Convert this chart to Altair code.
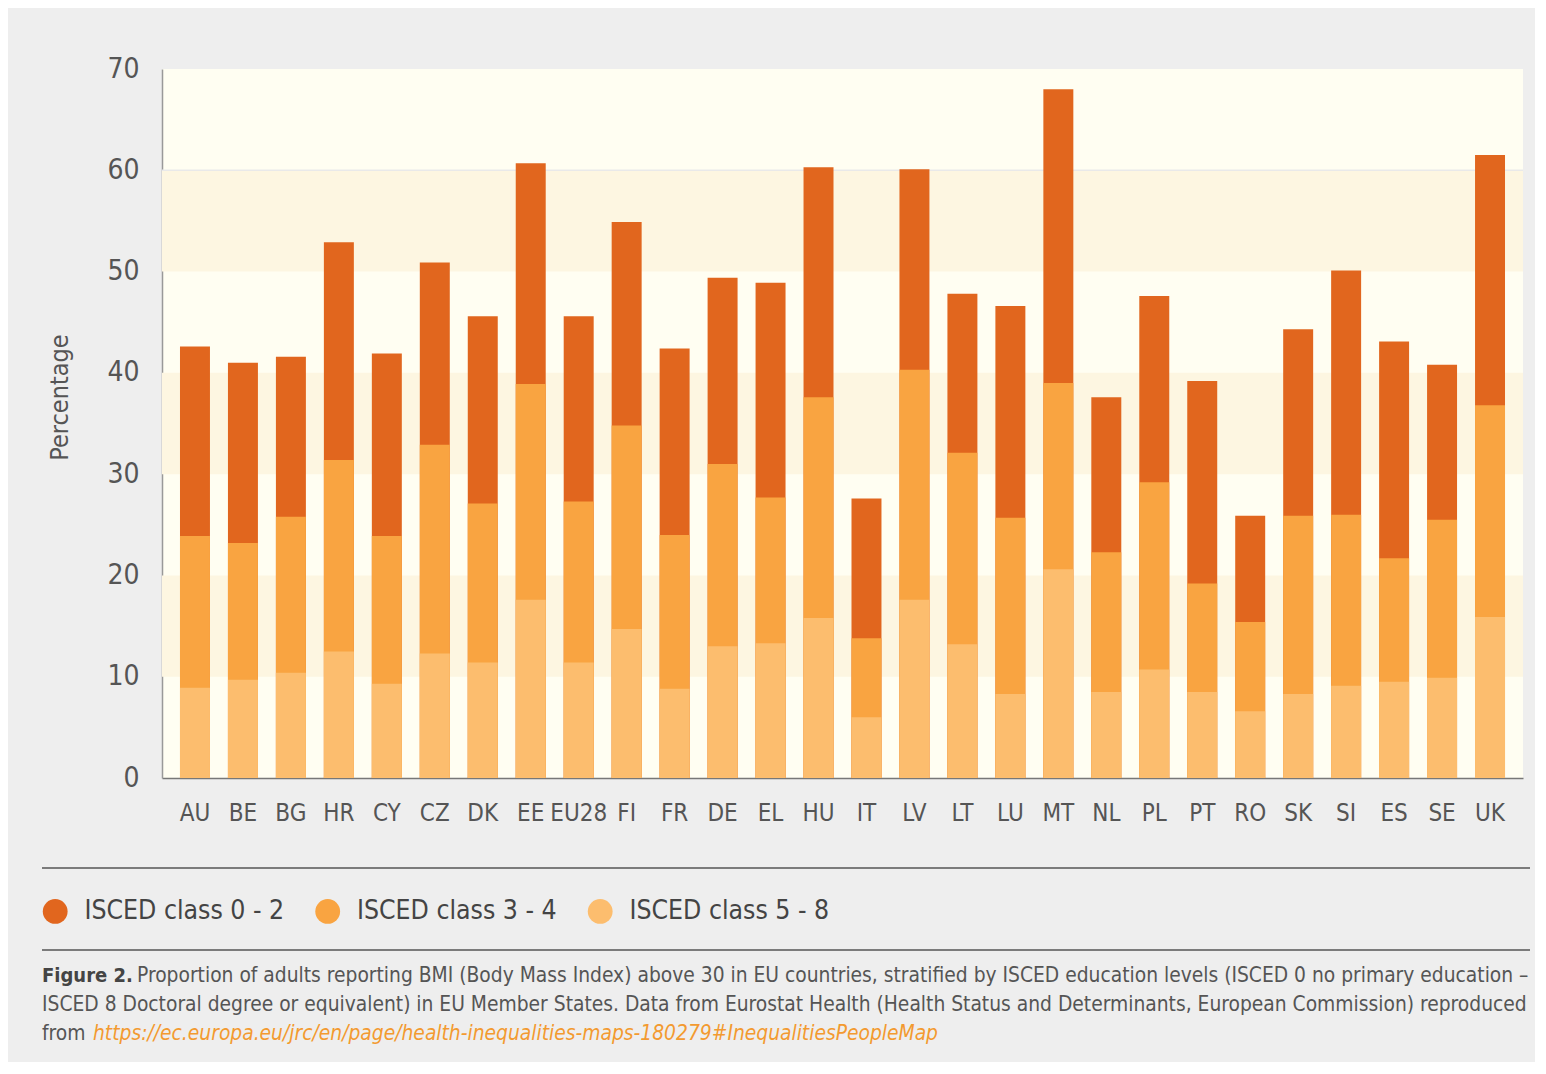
import altair as alt
import pandas as pd

countries = ["AU", "BE", "BG", "HR", "CY", "CZ", "DK", "EE", "EU28", "FI", "FR", "DE", "EL", "HU",
             "IT", "LV", "LT", "LU", "MT", "NL", "PL", "PT", "RO", "SK", "SI", "ES", "SE", "UK"]
isced_0_2 = [42.6, 41.0, 41.6, 52.9, 41.9, 50.9, 45.6, 60.7, 45.6, 54.9, 42.4, 49.4, 48.9, 60.3,
             27.6, 60.1, 47.8, 46.6, 68.0, 37.6, 47.6, 39.2, 25.9, 44.3, 50.1, 43.1, 40.8, 61.5]
isced_3_4 = [23.9, 23.2, 25.8, 31.4, 23.9, 32.9, 27.1, 38.9, 27.3, 34.8, 24.0, 31.0, 27.7, 37.6,
             13.8, 40.3, 32.1, 25.7, 39.0, 22.3, 29.2, 19.2, 15.4, 25.9, 26.0, 21.7, 25.5, 36.8]
isced_5_8 = [8.9, 9.7, 10.4, 12.5, 9.3, 12.3, 11.4, 17.6, 11.4, 14.7, 8.8, 13.0, 13.3, 15.8,
             6.0, 17.6, 13.2, 8.3, 20.6, 8.5, 10.7, 8.5, 6.6, 8.3, 9.1, 9.5, 9.9, 15.9]
classes = ["ISCED class 0 - 2", "ISCED class 3 - 4", "ISCED class 5 - 8"]
class_colors = ["#e1661e", "#f9a441", "#fcbd6e"]
band_starts = [10, 30, 50]
grid_values = [60]
y_ticks = [0, 10, 20, 30, 40, 50, 60, 70]

caption_bold = "Figure 2."
caption_line1 = ("Proportion of adults reporting BMI (Body Mass Index) above 30 in EU countries, "
                 "stratified by ISCED education levels (ISCED 0 no primary education –")
caption_line2 = ("ISCED 8 Doctoral degree or equivalent) in EU Member States. Data from Eurostat Health "
                 "(Health Status and Determinants, European Commission) reproduced")
caption_line3 = "from"
caption_url = "https://ec.europa.eu/jrc/en/page/health-inequalities-maps-180279#InequalitiesPeopleMap"

rows = []
for cls, vals in zip(classes, [isced_0_2, isced_3_4, isced_5_8]):
    for c, v in zip(countries, vals):
        rows.append({"country": c, "cls": cls, "value": v})
df = pd.DataFrame(rows)
bands = pd.DataFrame({"y0": band_starts, "y1": [b + 10 for b in band_starts]})
grid = pd.DataFrame({"g": grid_values})

FONT = "Liberation Sans Narrow, DejaVu Sans Condensed, sans-serif"
TXT = "#555555"

x_scale = alt.Scale(domain=countries, paddingInner=0.375, paddingOuter=0.375)
y_scale = alt.Scale(domain=[0, 70], nice=False)
y_axis = alt.Axis(title="Percentage", values=y_ticks, ticks=False, grid=False,
                  domainColor="#999999", domainWidth=1.5, labelFontSize=28, labelFont=FONT,
                  labelColor=TXT, labelPadding=23, titleFontSize=25, titleFont=FONT,
                  titleFontWeight="normal", titleColor=TXT, titleX=-103, titleY=328,
                  titleAngle=270, titleAlign="center", titleBaseline="middle")

band_layer = alt.Chart(bands).mark_rect(color="#fdf6e1").encode(
    x=alt.value(0), x2=alt.value("width"),
    y=alt.Y("y0:Q", scale=y_scale, axis=y_axis), y2="y1:Q")

grid_layer = alt.Chart(grid).mark_rule(color="#e9e9e9", strokeWidth=1.5).encode(
    x=alt.value(0), x2=alt.value("width"),
    y=alt.Y("g:Q", scale=y_scale, axis=y_axis))

bars = alt.Chart(df).mark_bar().encode(
    x=alt.X("country:N", sort=countries, scale=x_scale,
            axis=alt.Axis(title=None, labelAngle=0, ticks=False, labelPadding=23, labelFontSize=24,
                          labelColor=TXT, labelFont=FONT, domainColor="#777777", domainWidth=1.5)),
    y=alt.Y("value:Q", stack=None, scale=y_scale, axis=y_axis),
    color=alt.Color("cls:N", scale=alt.Scale(domain=classes, range=class_colors),
                    legend=alt.Legend(title=None, orient="none", legendX=-120, legendY=829,
                                      direction="horizontal", symbolType="circle", symbolSize=615,
                                      symbolStrokeWidth=0, symbolOpacity=1, labelFontSize=26.4,
                                      labelFont=FONT, labelColor="#444444", labelOffset=16,
                                      labelLimit=0, columnPadding=29.5, padding=0)),
)

one = alt.Data(values=[{}])
rule1 = alt.Chart(one).mark_rule(color="#555555", strokeWidth=1.5).encode(
    x=alt.value(-120), x2=alt.value(1368), y=alt.value(799))
rule2 = alt.Chart(one).mark_rule(color="#555555", strokeWidth=1.5).encode(
    x=alt.value(-120), x2=alt.value(1368), y=alt.value(881))


def txt(text, x, y, size=20.8, weight="normal", color=TXT, style="normal"):
    return alt.Chart(one).mark_text(align="left", baseline="middle", font=FONT, fontSize=size,
                                    fontWeight=weight, color=color, fontStyle=style).encode(
        x=alt.value(x), y=alt.value(y), text=alt.value(text))


caps = [
    txt(caption_bold, -120, 907, size=20, weight="bold", color="#444444"),
    txt(caption_line1, -25, 907),
    txt(caption_line2, -120, 936),
    txt(caption_line3, -120, 965),
    txt(caption_url, -69, 965, color="#f39a30", style="italic"),
]

chart = alt.layer(band_layer, grid_layer, bars, rule1, rule2, *caps).properties(
    width=1361, height=709,
    autosize=alt.AutoSizeParams(type="none"),
    padding={"left": 154, "top": 61, "right": 12, "bottom": 284},
    background="#eeeeee",
).configure_view(stroke=None, fill="#fffef2")

chart.save("out.html", embed_options={"renderer": "svg", "actions": False})
